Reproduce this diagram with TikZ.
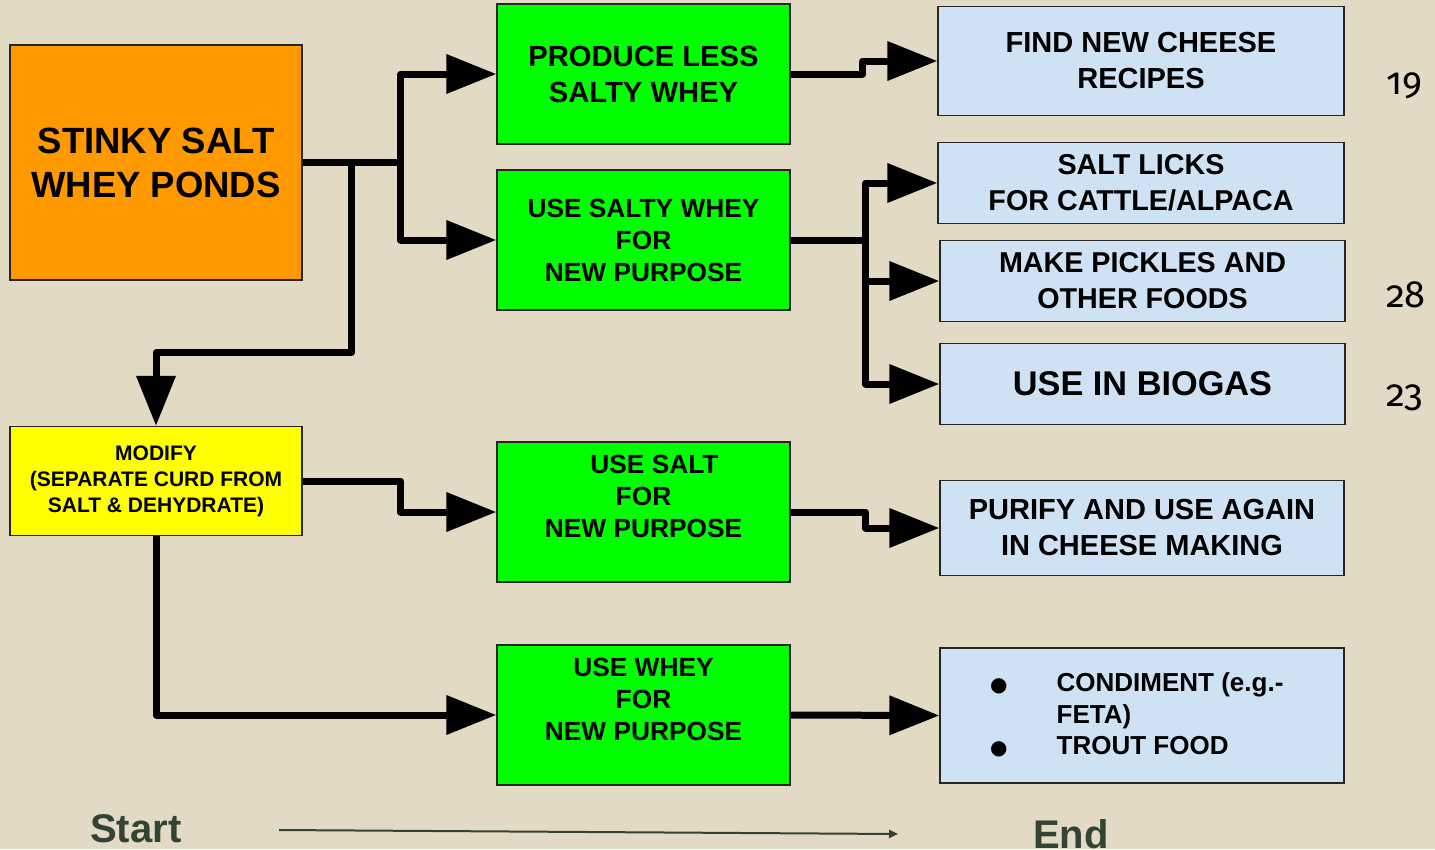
\documentclass[tikz,border=0pt]{standalone}
\usepackage{fontspec}
\usepackage{graphicx}
\setmainfont{Liberation Sans}
\newfontfamily\numfont[Numbers=OldStyle]{Fira Sans}
\newfontfamily\dejavu{DejaVu Sans}
\usetikzlibrary{arrows.meta}
\definecolor{bg}{RGB}{226,218,197}
\definecolor{orangeC}{RGB}{255,153,0}
\definecolor{greenC}{RGB}{0,255,0}
\definecolor{yellowC}{RGB}{255,255,0}
\definecolor{blueC}{RGB}{207,226,243}
\definecolor{startC}{RGB}{52,68,52}
\begin{document}
\begin{tikzpicture}[x=1pt,y=-1pt,
  box/.style={draw=black!85, line width=1.3pt, inner sep=0pt, align=center},
  gbox/.style={box, fill=greenC, minimum width=293, minimum height=140, font=\bfseries\fontsize{26.3}{32}\selectfont},
  bbox/.style={box, fill=blueC, font=\bfseries\fontsize{28.7}{36}\selectfont},
  conn/.style={line width=7pt, line join=round, -{Triangle[length=50pt,width=38pt]}},
  numtxt/.style={anchor=base, font=\numfont\fontsize{38}{38}\selectfont},
  sttxt/.style={text=startC, inner sep=0pt, font=\bfseries\fontsize{40}{40}\selectfont}]
\fill[bg] (0,0) rectangle (1435,849);
\useasboundingbox (0,0) rectangle (1435,849);

% left column
\node[box, fill=orangeC, minimum width=292, minimum height=235, font=\bfseries\fontsize{36.5}{44}\selectfont] (pond) at (156,162.5) {STINKY SALT\\WHEY PONDS};
\node[box, fill=yellowC, minimum width=292, minimum height=109, font=\bfseries\fontsize{21}{26}\selectfont] (mod) at (156,481) {MODIFY\\(SEPARATE CURD FROM\\SALT \& DEHYDRATE)};

% middle column
\node[gbox, font=\bfseries\fontsize{29.2}{36}\selectfont] (g1) at (643.5,74) {PRODUCE LESS\\SALTY WHEY};
\node[gbox] (g2) at (643.5,240) {USE SALTY WHEY\\FOR\\NEW PURPOSE};
\node[gbox] (g3) at (643.5,512) {\hspace*{22pt}USE SALT\\FOR\\NEW PURPOSE\\\mbox{}};
\node[gbox] (g4) at (643.5,715) {USE WHEY\\FOR\\NEW PURPOSE\\\mbox{}};

% right column
\node[bbox, minimum width=406, minimum height=109, font=\bfseries\fontsize{29}{36}\selectfont] (b1) at (1141,61) {FIND NEW CHEESE\\RECIPES};
\node[bbox, minimum width=406, minimum height=81] (b2) at (1141,183) {SALT LICKS\\FOR CATTLE/ALPACA};
\node[bbox, minimum width=405, minimum height=81] (b3) at (1142.5,281) {MAKE PICKLES AND\\OTHER FOODS};
\node[bbox, minimum width=405, minimum height=81, font=\bfseries\fontsize{34.3}{40}\selectfont] (b4) at (1142.5,384) {USE IN BIOGAS};
\node[bbox, minimum width=404, minimum height=95, font=\bfseries\fontsize{29}{36}\selectfont] (b5) at (1142,528) {PURIFY AND USE AGAIN\\IN CHEESE MAKING};
\node[bbox, minimum width=404, minimum height=135] (b6) at (1142,715.5) {};
\node[anchor=west, inner sep=0pt, font=\bfseries\fontsize{26}{31.5}\selectfont] (b6t) at (990,717)
  {\begin{tabular}{@{}l@{\hspace{49pt}}l@{}}
   {\dejavu\fontsize{20}{20}\selectfont ●} & CONDIMENT (e.g.-\\
    & FETA)\\
   {\dejavu\fontsize{20}{20}\selectfont ●} & TROUT FOOD
   \end{tabular}};

% numbers
\node[numtxt] (n19) at (1404,94) {19};
\node[numtxt] (n28) at (1406,307) {28};
\node[numtxt] (n23) at (1405,406) {23};

% connectors
\draw[conn] (pond.east) -- ++(98,0) |- (g1.west);
\draw[conn] (pond.east) -- ++(98,0) |- (g2.west);
\draw[conn] (pond.east) -- ++(49,0) -- ++(0,190) -| (mod.north);
\draw[conn] (g1.east) -- ++(72,0) |- (b1.west);
\draw[conn] (g2.east) -- ++(75,0) |- (b2.west);
\draw[conn] (g2.east) -- ++(75,0) |- (b3.west);
\draw[conn] (g2.east) -- ++(75,0) |- (b4.west);
\draw[conn] (mod.east) -- ++(98,0) |- (g3.west);
\draw[conn] (g3.east) -- ++(75,0) |- (b5.west);
\draw[conn] (mod.south) |- (g4.west);
\draw[conn] (g4.east) -- (b6.west);

% start / end
\node[sttxt, anchor=base west] (start) at (90,842) {Start};
\node[sttxt, anchor=base west] (end) at (1033,848) {End};
\coordinate (s0) at (279,830);
\coordinate (s1) at (898,834);
\draw[line width=2pt, startC, -{Triangle[length=9pt,width=8pt]}] (s0) -- (s1);
\end{tikzpicture}
\end{document}
